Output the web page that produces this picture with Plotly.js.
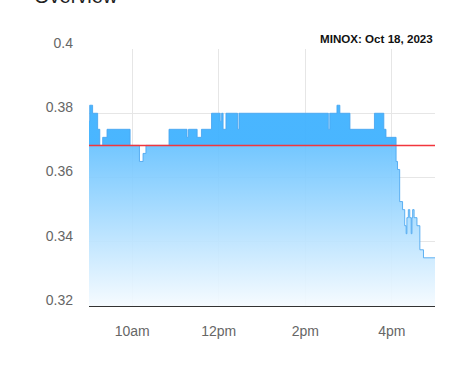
<!DOCTYPE html>
<html>
<head>
<meta charset="utf-8">
<script src="https://cdn.plot.ly/plotly-3.0.1.min.js"></script>
<style>html,body{margin:0;padding:0;background:#fff;}#chart{width:461px;height:377px;}</style>
</head>
<body>
<div id="chart"></div>
<script>
const day = '2023-10-18 ';
const times = ['09:00','09:01','09:05','09:12','09:15','09:19','09:25','09:57','10:10','10:15','10:19','10:51','11:16','11:18','11:30','11:36','11:50','12:02','12:04','12:06','12:10','12:26','12:28','14:32','14:34','14:44','14:48','15:02','15:36','15:49','15:52','16:06','16:08','16:11','16:15','16:18','16:20','16:21','16:23','16:25','16:27','16:28','16:29','16:31','16:35','16:39','16:44','17:00'];
const prices = [0.3775,0.3825,0.38,0.375,0.37,0.3725,0.375,0.37,0.365,0.3675,0.37,0.375,0.3725,0.375,0.3725,0.375,0.38,0.3775,0.38,0.375,0.38,0.375,0.38,0.375,0.38,0.3825,0.38,0.375,0.38,0.375,0.3725,0.365,0.3625,0.3525,0.35,0.345,0.3425,0.3475,0.35,0.3475,0.3425,0.3475,0.35,0.3475,0.345,0.3375,0.335,0.335];
const prevClose = 0.37;
const tickTimes = ['10:00','12:00','14:00','16:00'];
const tickLabels = ['10am','12pm','2pm','4pm'];
const yTicks = [0.32,0.34,0.36,0.38,0.4];
const yTickLabels = ['0.32','0.34','0.36','0.38','0.4'];
const xRange = ['09:00','17:00'];
const yRange = [0.32,0.40];
const symbol = 'MINOX';
const dateLabel = 'Oct 18, 2023';

const x = times.map(t => day + t);
const pos = (prevClose - yRange[0]) / (yRange[1] - yRange[0]);

const traces = [
  {
    x: x, y: prices, type: 'scatter', mode: 'lines',
    line: {shape: 'hv', color: 'rgba(70,165,240,0.85)', width: 1},
    fill: 'tozeroy',
    fillgradient: {
      type: 'vertical', start: yRange[0], stop: yRange[1],
      colorscale: [[0,'rgba(246,251,255,0.92)'],[pos,'rgba(104,194,255,0.92)'],[pos+0.0001,'rgba(64,178,255,0.95)'],[1,'rgba(64,178,255,0.95)']]
    },
    hoverinfo: 'skip'
  },
  {
    x: [day + xRange[0], day + xRange[1]], y: [prevClose, prevClose],
    type: 'scatter', mode: 'lines',
    line: {color: '#f2363c', width: 1.5},
    hoverinfo: 'skip'
  }
];

const layout = {
  width: 461, height: 377,
  margin: {l: 89, r: 26, t: 49, b: 71},
  paper_bgcolor: '#fff', plot_bgcolor: '#fff',
  showlegend: false,
  font: {family: '"Liberation Sans", Arial, sans-serif', size: 14, color: '#666'},
  xaxis: {
    type: 'date', range: xRange.map(t => day + t),
    tickvals: tickTimes.map(t => day + t), ticktext: tickLabels,
    showgrid: true, gridcolor: '#e6e6e6', gridwidth: 1,
    showline: true, linecolor: '#333', linewidth: 1,
    ticks: '', zeroline: false, ticklabelstandoff: 12,
    tickfont: {size: 14, color: '#666'}
  },
  yaxis: {
    range: yRange, tickvals: yTicks, ticktext: yTickLabels,
    showgrid: true, gridcolor: '#e6e6e6', gridwidth: 1,
    showline: false, ticks: '', zeroline: false,
    ticklabelstandoff: 15, ticklabelshift: -6,
    tickfont: {size: 14, color: '#666'}
  },
  annotations: [
    {
      text: '<b>' + symbol + ': ' + dateLabel + '</b>',
      xref: 'paper', yref: 'paper', x: 1, y: 1, xanchor: 'right', yanchor: 'bottom',
      yshift: 2, showarrow: false,
      font: {family: '"Liberation Sans", Arial, sans-serif', size: 11.6, color: '#111'}
    },
    {
      text: 'Overview',
      xref: 'paper', yref: 'paper', x: 0, y: 1, xanchor: 'left', yanchor: 'bottom',
      xshift: -57, yshift: 40, showarrow: false,
      font: {family: '"Liberation Sans", Arial, sans-serif', size: 20, color: '#222'}
    }
  ]
};

Plotly.newPlot('chart', traces, layout, {displayModeBar: false, staticPlot: true});
</script>
</body>
</html>
